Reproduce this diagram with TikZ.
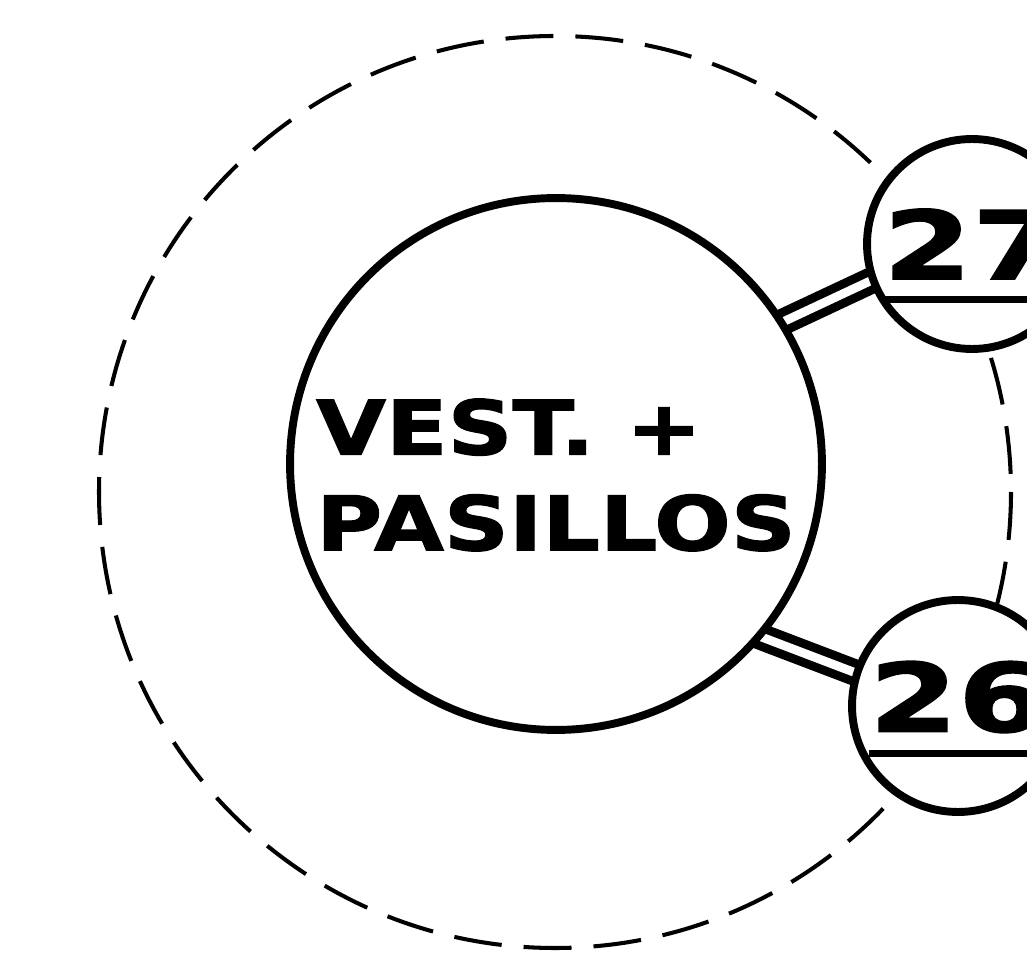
\documentclass[tikz,border=0pt]{standalone}
\usepackage{fontspec}
\usepackage{tikz}
\usetikzlibrary{backgrounds}
\newfontfamily\roomfont[FakeStretch=1.2,BoldFeatures={FakeBold=1.6}]{DejaVu Sans}
\newfontfamily\tagfont[FakeStretch=1.35,BoldFeatures={FakeBold=1.6}]{DejaVu Sans}
\tikzset{room/.style={circle,draw,line width=4.5pt,fill=white,inner sep=0pt},
 zone/.style={line width=2.3pt,dash pattern=on 0.96cm off 0.44cm},
 link/.style={line width=5pt,double=white,double distance=5pt,
  shorten <=-8pt,shorten >=-8pt},
 roomname/.style={inner sep=0pt,align=left},
 tag/.style={inner sep=0pt,font=\tagfont\bfseries\fontsize{54}{54}\selectfont},
 rule/.style={line width=4pt},
 every node/.style={font=\roomfont\bfseries\fontsize{42.8}{54.5}\selectfont}}

\begin{document}
\begin{tikzpicture}[x=0.02cm,y=-0.02cm]
\useasboundingbox (0,0) rectangle (1027,955);
\clip (0,0) rectangle (1027,955);
\draw[zone] (555,492) circle[radius=456];
\node[room,minimum size=10.64cm] (vest) at (556,464) {};
\node[roomname] (vestname) at ([yshift=-0.22cm]vest) {VEST. +\\PASILLOS};
\node[room,minimum size=4.2cm] (r27) at (972,244) {};
\node[room,minimum size=4.24cm] (r26) at (958,706) {};
\node[tag] (n27) at (r27) {27};
\node[tag] (n26) at ([yshift=0.18cm]r26) {26};
\draw[rule] ([yshift=-0.4cm]n27.south west) -- ([yshift=-0.4cm]n27.south east);
\draw[rule] ([yshift=-0.4cm]n26.south west) -- ([yshift=-0.4cm]n26.south east);
\begin{pgfonlayer}{background}
\draw[link] (vest.32) -- (r27.200);
\draw[link] (vest.-40) -- (r26.162);
\end{pgfonlayer}
\end{tikzpicture}
\end{document}
